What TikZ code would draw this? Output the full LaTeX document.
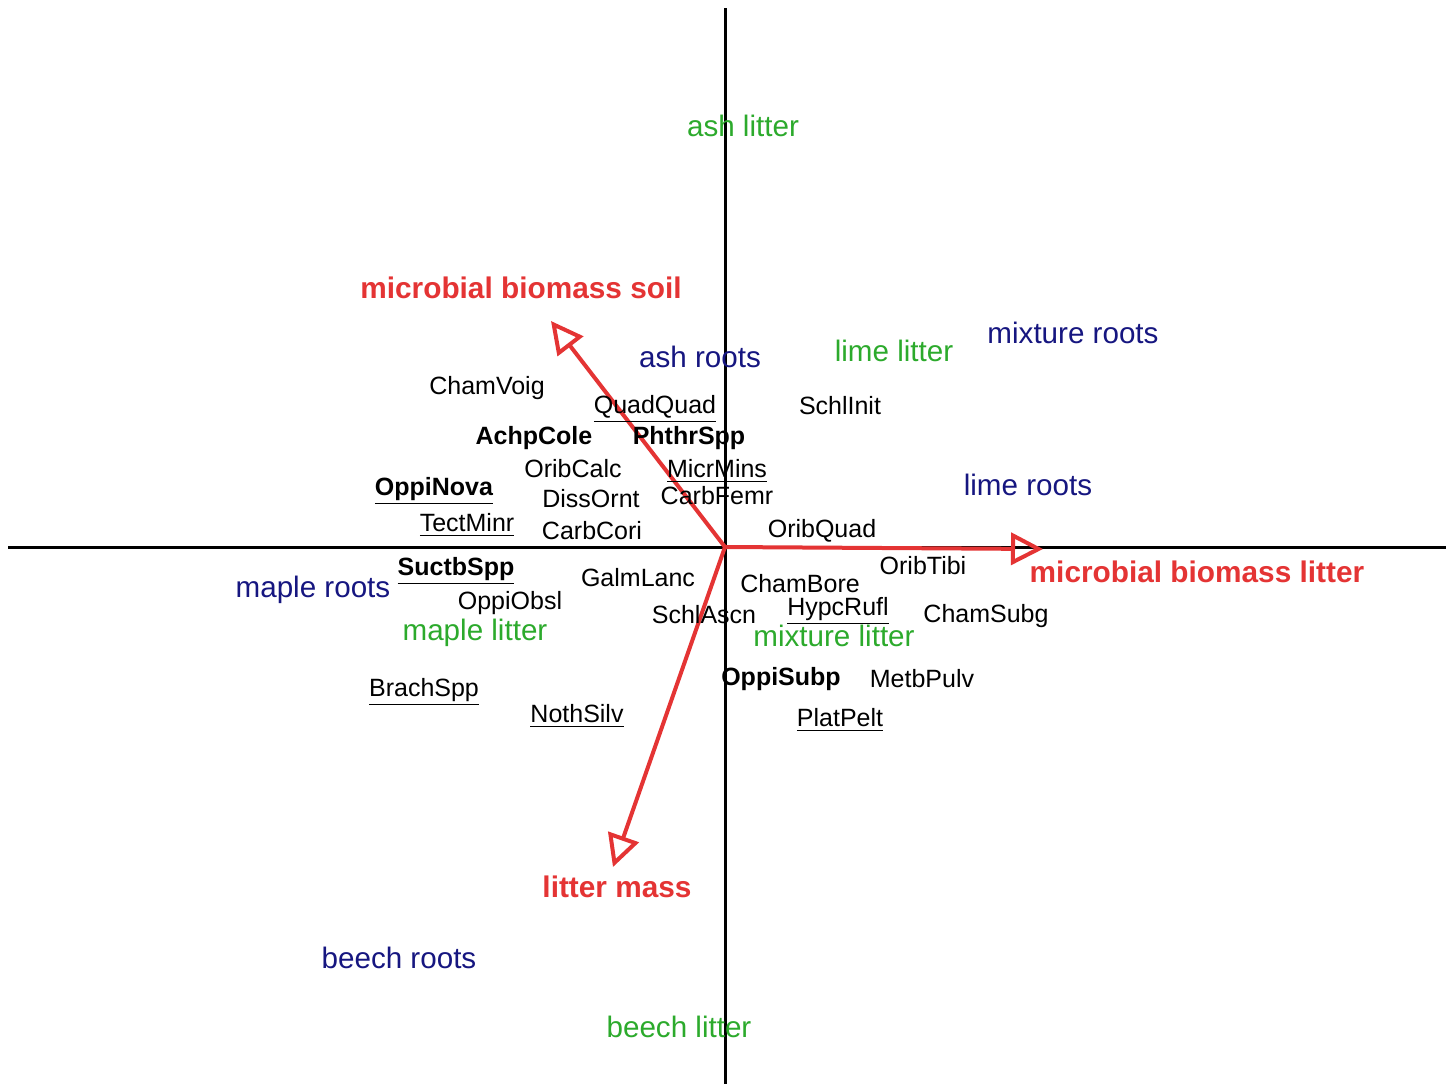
\documentclass[tikz,border=0pt]{standalone}
\usepackage{fontspec}
\setmainfont{Liberation Sans}
\usetikzlibrary{arrows.meta}
\definecolor{envred}{RGB}{228,52,52}
\definecolor{litgreen}{RGB}{44,170,44}
\definecolor{rootblue}{RGB}{22,22,128}
\tikzset{
  sp/.style={inner sep=0pt, anchor=center, yshift=-1pt, font=\fontsize{12.5}{15}\selectfont, text=black},
  spb/.style={sp, font=\fontsize{12.5}{15}\selectfont\bfseries},
  litter/.style={inner sep=0pt, anchor=center, font=\fontsize{14.8}{17}\selectfont, text=litgreen},
  roots/.style={inner sep=0pt, anchor=center, font=\fontsize{14.8}{17}\selectfont, text=rootblue},
  envlab/.style={inner sep=0pt, anchor=center, font=\fontsize{14.9}{17}\selectfont\bfseries, text=envred},
  axisline/.style={line width=1.5pt, black},
  envarrow/.style={line width=2pt, envred, -{Triangle[open, length=16pt, width=16pt]}}
}
\begin{document}
\begin{tikzpicture}[x=0.5pt, y=-0.5pt]
\useasboundingbox (0,0) rectangle (1453,1084);
% axes
\coordinate (xl) at (8,547);
\coordinate (xr) at (1446,547);
\coordinate (yt) at (725,8);
\coordinate (yb) at (725,1084);
\coordinate (o) at (725,547);
\draw[axisline] (xl) -- (xr);
\draw[axisline] (yt) -- (yb);
% arrows
\coordinate (tsoil) at (551,321);
\coordinate (tlit) at (1043,549);
\coordinate (tmass) at (613,867);
\draw[envarrow] (o) -- (tsoil);
\draw[envarrow] (o) -- (tlit);
\draw[envarrow] (o) -- (tmass);
% environmental labels
\node[envlab] (lsoil) at (521,288) {microbial biomass soil};
\node[envlab] (llit) at (1197,572) {microbial biomass litter};
\node[envlab] (lmass) at (617,887) {litter mass};
% litter
\node[litter] (ashl) at (743,126) {ash litter};
\node[litter] (limel) at (894,351) {lime litter};
\node[litter] (maplel) at (475,633) {maple litter};
\node[litter] (mixl) at (834,636) {mixture litter};
\node[litter] (beechl) at (679,1027) {beech litter};
% roots
\node[roots] (mixr) at (1073,333) {mixture roots};
\node[roots] (ashr) at (700,357) {ash roots};
\node[roots] (limer) at (1028,485) {lime roots};
\node[roots] (mapler) at (313,590) {maple roots};
\node[roots] (beechr) at (399,958) {beech roots};
% species
\node[sp] (chamvoig) at (487,386) {ChamVoig};
\node[sp] (quadquad) at (655,407) {\underline{QuadQuad}};
\node[sp] (schlinit) at (840,404) {SchlInit};
\node[spb] (achpcole) at (534,436) {AchpCole};
\node[spb] (phthrspp) at (689,436) {PhthrSpp};
\node[sp] (oribcalc) at (573,467) {OribCalc};
\node[sp] (micrmins) at (717,469) {\underline{MicrMins}};
\node[spb] (oppinova) at (434,489) {\underline{OppiNova}};
\node[sp] (dissornt) at (591,497) {DissOrnt};
\node[sp] (carbfemr) at (717,494) {CarbFemr};
\node[sp] (tectminr) at (467,523) {\underline{TectMinr}};
\node[sp] (carbcori) at (592,529) {CarbCori};
\node[sp] (oribquad) at (822,529) {OribQuad};
\node[spb] (suctbspp) at (456,569) {\underline{SuctbSpp}};
\node[sp] (galmlanc) at (638,576) {GalmLanc};
\node[sp] (oribtibi) at (923,564) {OribTibi};
\node[sp] (chambore) at (800,582) {ChamBore};
\node[sp] (oppiobsl) at (510,601) {OppiObsl};
\node[sp] (schlascn) at (704,613) {SchlAscn};
\node[sp] (hypcrufl) at (838,609) {\underline{HypcRufl}};
\node[sp] (chamsubg) at (986,614) {ChamSubg};
\node[spb] (oppisubp) at (781,677) {OppiSubp};
\node[sp] (metbpulv) at (922,677) {MetbPulv};
\node[sp] (brachspp) at (424,690) {\underline{BrachSpp}};
\node[sp] (nothsilv) at (577,714) {\underline{NothSilv}};
\node[sp] (platpelt) at (840,718) {\underline{PlatPelt}};
\end{tikzpicture}
\end{document}
